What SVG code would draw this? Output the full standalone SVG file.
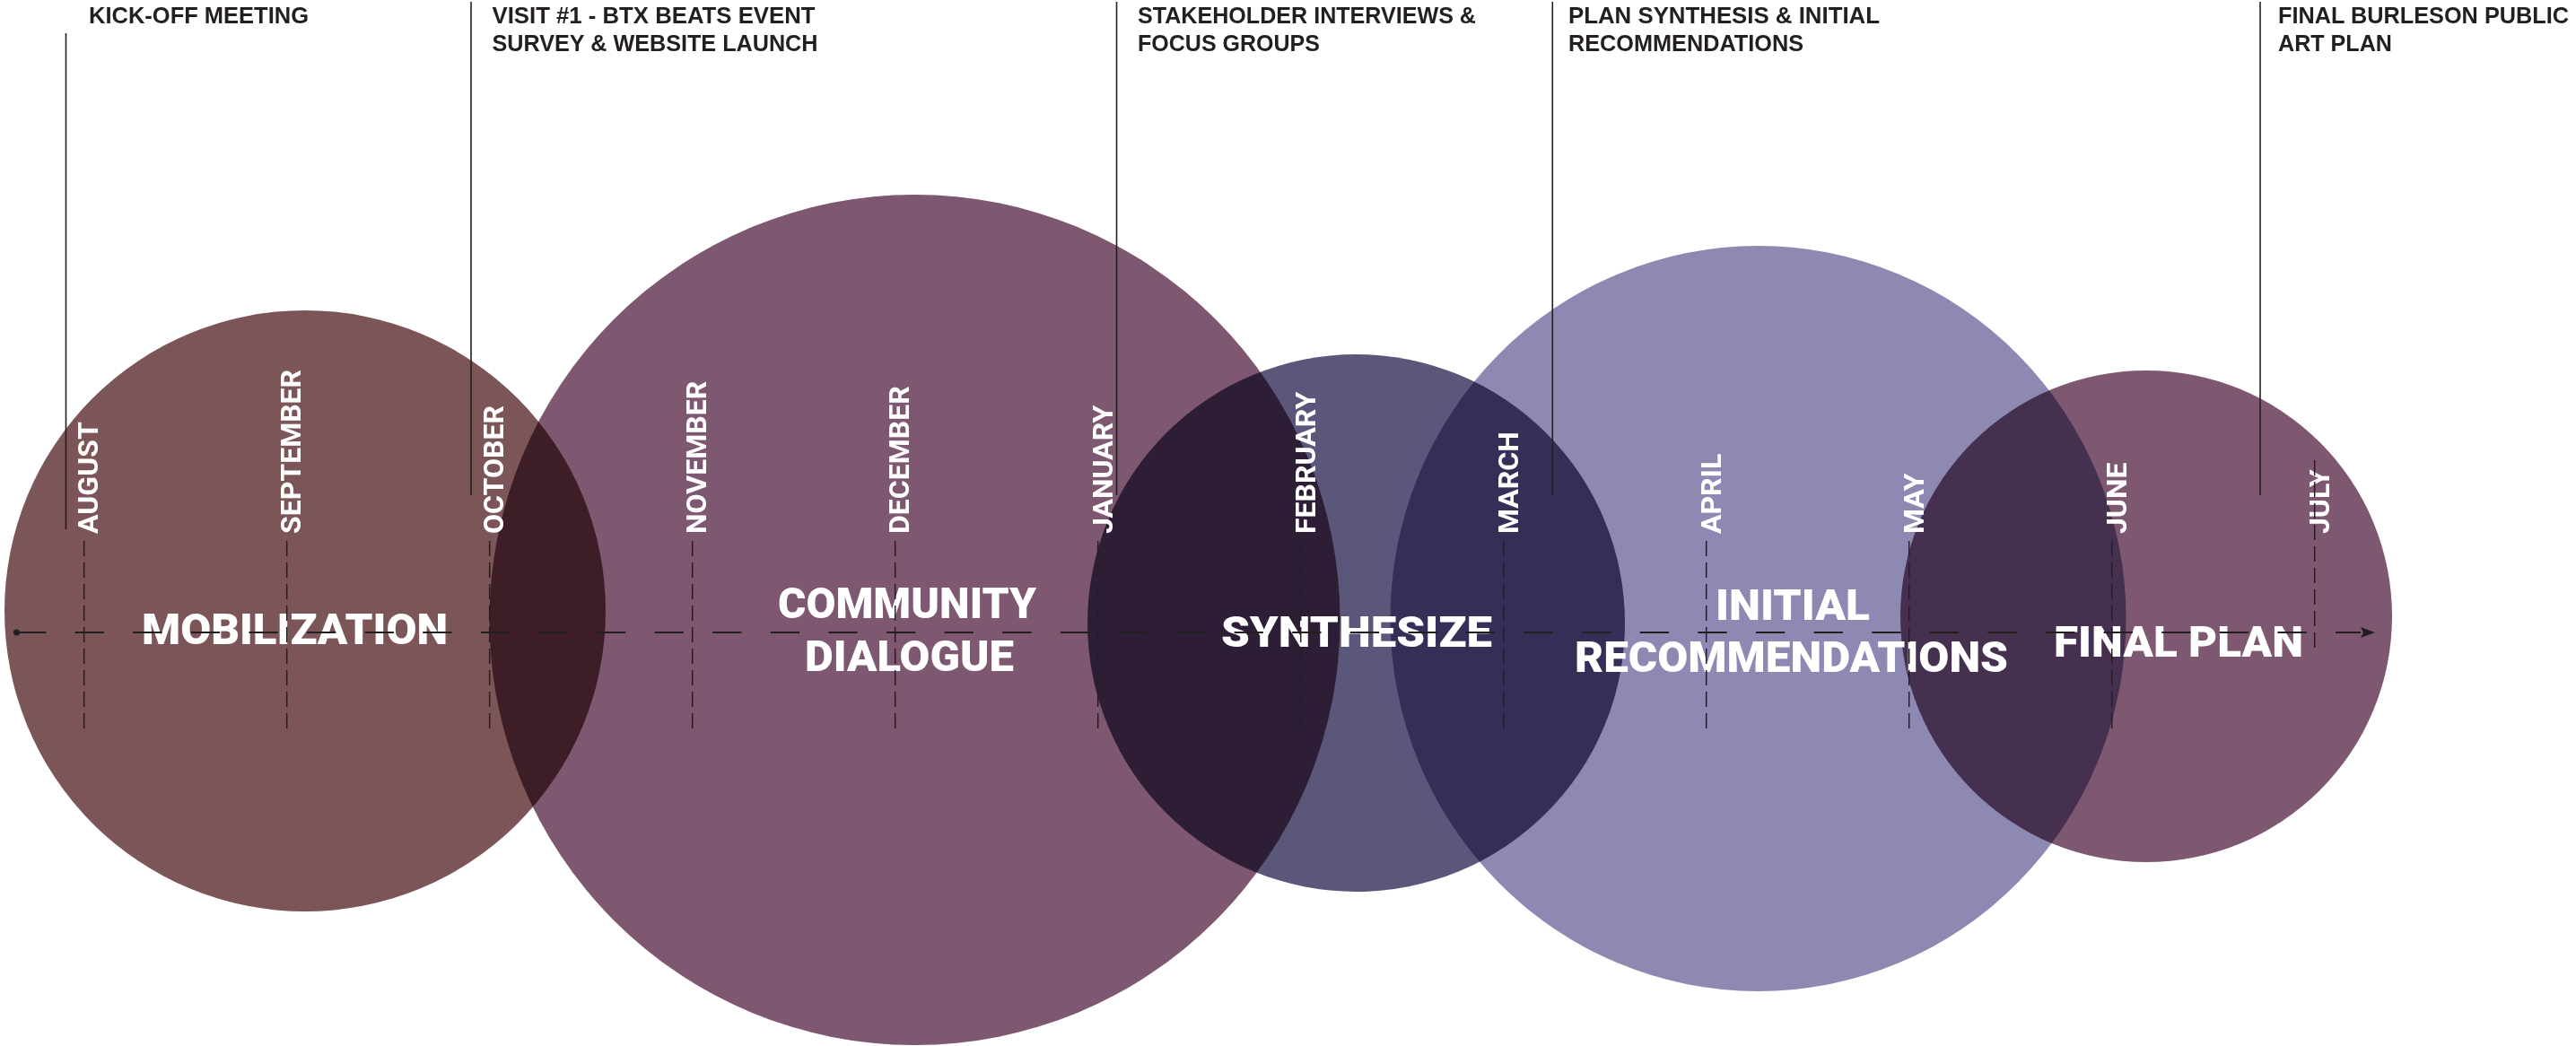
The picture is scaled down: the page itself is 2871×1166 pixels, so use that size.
<svg xmlns="http://www.w3.org/2000/svg" width="2871" height="1166" viewBox="0 0 2871 1166">
<defs>
<style>
.bubble{mix-blend-mode:multiply}
.phase{font-family:Roboto,"Liberation Sans",sans-serif;font-weight:900;font-size:48px;fill:#ffffff}
.month{font-family:Roboto,"Liberation Sans",sans-serif;font-weight:700;font-size:32px;fill:#ffffff}
.note{font-family:"Liberation Sans",Arial,sans-serif;font-weight:700;font-size:25px;fill:#231f20}
.lead{stroke:#231f20;stroke-width:1.6;fill:none}
.tick{stroke:#231f20;stroke-width:1.5;stroke-dasharray:17 7;fill:none}
.axis{stroke:#231f20;stroke-width:2;stroke-dasharray:32.3 32.3;fill:none}
</style>
<marker id="arrow" viewBox="0 0 16 12" refX="0" refY="6" markerWidth="16" markerHeight="12" markerUnits="userSpaceOnUse" orient="auto">
<path d="M0,0 L16,6 L0,12 L3,6 Z" fill="#231f20"/>
</marker>
</defs>
<rect x="0" y="0" width="2871" height="1166" fill="#ffffff"/>
<g id="phases">
<g id="node-mobilization"><circle class="bubble" cx="340" cy="681" r="335" fill="#7b5557"/></g>
<g id="node-community-dialogue"><circle class="bubble" cx="1019.5" cy="691" r="474" fill="#7d5870"/></g>
<g id="node-synthesize"><circle class="bubble" cx="1511.5" cy="694.5" r="299.5" fill="#5b577a"/></g>
<g id="node-initial-recommendations"><ellipse class="bubble" cx="1959.5" cy="689.5" rx="410" ry="415.5" fill="#8e89b3"/></g>
<g id="node-final-plan"><circle class="bubble" cx="2392" cy="687" r="274" fill="#7d5870"/></g>
</g>
<g id="phase-labels">
<text id="label-mobilization" class="phase" x="158" y="718" textLength="341" lengthAdjust="spacingAndGlyphs">MOBILIZATION</text>
<text id="label-community-dialogue" class="phase"><tspan x="867" y="689" textLength="288" lengthAdjust="spacingAndGlyphs">COMMUNITY</tspan><tspan x="897" y="748" textLength="233" lengthAdjust="spacingAndGlyphs">DIALOGUE</tspan></text>
<text id="label-synthesize" class="phase" x="1361" y="721" textLength="302" lengthAdjust="spacingAndGlyphs">SYNTHESIZE</text>
<text id="label-initial-recommendations" class="phase"><tspan x="1912" y="691" textLength="172" lengthAdjust="spacingAndGlyphs">INITIAL</tspan><tspan x="1755" y="749" textLength="483" lengthAdjust="spacingAndGlyphs">RECOMMENDATIONS</tspan></text>
<text id="label-final-plan" class="phase" x="2289" y="732" textLength="278" lengthAdjust="spacingAndGlyphs">FINAL PLAN</text>
</g>
<g id="months">
<text class="month" transform="translate(108.7,595) rotate(-90)">AUGUST</text>
<text class="month" transform="translate(335.2,595) rotate(-90)">SEPTEMBER</text>
<text class="month" transform="translate(561.2,595) rotate(-90)">OCTOBER</text>
<text class="month" transform="translate(787.2,595) rotate(-90)">NOVEMBER</text>
<text class="month" transform="translate(1013.2,595) rotate(-90)">DECEMBER</text>
<text class="month" transform="translate(1239.7,595) rotate(-90)">JANUARY</text>
<text class="month" transform="translate(1466.2,595) rotate(-90)">FEBRUARY</text>
<text class="month" transform="translate(1692.2,595) rotate(-90)">MARCH</text>
<text class="month" transform="translate(1918.2,595) rotate(-90)">APRIL</text>
<text class="month" transform="translate(2144.2,595) rotate(-90)">MAY</text>
<text class="month" transform="translate(2370.2,595) rotate(-90)">JUNE</text>
<text class="month" transform="translate(2596.2,595) rotate(-90)">JULY</text>
</g>
<g id="connectors">
<line class="axis" x1="19" y1="705" x2="2631" y2="705" marker-end="url(#arrow)"/>
<circle cx="18.5" cy="705" r="3.5" fill="#231f20"/>
<line class="tick" x1="93.7" y1="603" x2="93.7" y2="817"/>
<line class="tick" x1="319.7" y1="603" x2="319.7" y2="817"/>
<line class="tick" x1="545.7" y1="603" x2="545.7" y2="817"/>
<line class="tick" x1="771.7" y1="603" x2="771.7" y2="817"/>
<line class="tick" x1="997.7" y1="603" x2="997.7" y2="817"/>
<line class="tick" x1="1223.7" y1="603" x2="1223.7" y2="817"/>
<line class="tick" x1="1449.7" y1="603" x2="1449.7" y2="817"/>
<line class="tick" x1="1675.7" y1="603" x2="1675.7" y2="817"/>
<line class="tick" x1="1901.7" y1="603" x2="1901.7" y2="817"/>
<line class="tick" x1="2127.7" y1="603" x2="2127.7" y2="817"/>
<line class="tick" x1="2353.7" y1="603" x2="2353.7" y2="817"/>
<line class="tick" x1="2579.7" y1="513" x2="2579.7" y2="725"/>
</g>
<g id="milestones">
<g id="milestone-kickoff">
<line class="lead" x1="73.5" y1="37" x2="73.5" y2="590"/>
<text class="note" x="99" y="26" textLength="245" lengthAdjust="spacingAndGlyphs">KICK-OFF MEETING</text>
</g>
<g id="milestone-visit1">
<line class="lead" x1="525" y1="2" x2="525" y2="552"/>
<text class="note"><tspan x="548.5" y="26" textLength="360" lengthAdjust="spacingAndGlyphs">VISIT #1 - BTX BEATS EVENT</tspan><tspan x="548.5" y="57.4" textLength="363" lengthAdjust="spacingAndGlyphs">SURVEY &amp; WEBSITE LAUNCH</tspan></text>
</g>
<g id="milestone-stakeholder">
<line class="lead" x1="1244.5" y1="2" x2="1244.5" y2="552"/>
<text class="note"><tspan x="1268" y="26" textLength="377" lengthAdjust="spacingAndGlyphs">STAKEHOLDER INTERVIEWS &amp;</tspan><tspan x="1268" y="57.4" textLength="203" lengthAdjust="spacingAndGlyphs">FOCUS GROUPS</tspan></text>
</g>
<g id="milestone-synthesis">
<line class="lead" x1="1730.3" y1="2" x2="1730.3" y2="552"/>
<text class="note"><tspan x="1748" y="26" textLength="347" lengthAdjust="spacingAndGlyphs">PLAN SYNTHESIS &amp; INITIAL</tspan><tspan x="1748" y="57.4" textLength="262" lengthAdjust="spacingAndGlyphs">RECOMMENDATIONS</tspan></text>
</g>
<g id="milestone-final">
<line class="lead" x1="2519" y1="2" x2="2519" y2="552"/>
<text class="note"><tspan x="2539" y="26" textLength="324" lengthAdjust="spacingAndGlyphs">FINAL BURLESON PUBLIC</tspan><tspan x="2539" y="57.4" textLength="127" lengthAdjust="spacingAndGlyphs">ART PLAN</tspan></text>
</g>
</g>
</svg>
